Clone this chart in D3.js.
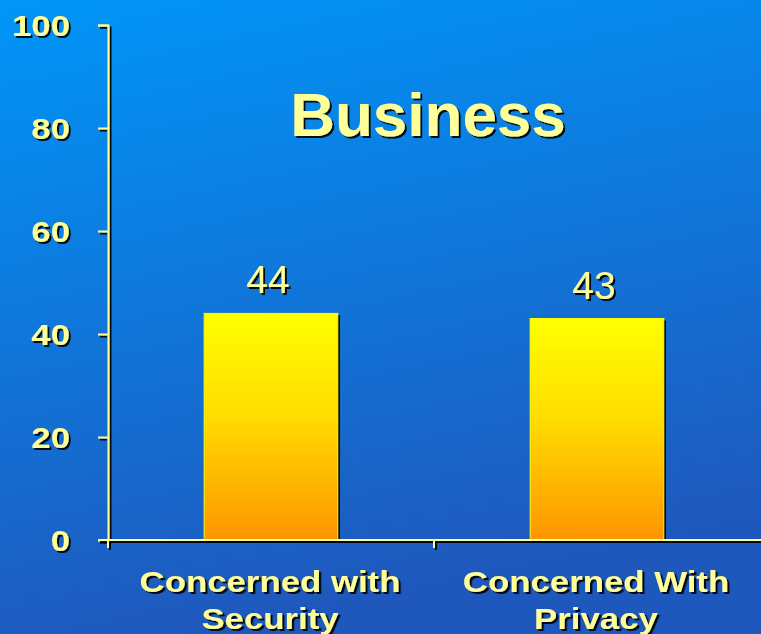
<!DOCTYPE html>
<html lang="en">
<head>
<meta charset="utf-8">
<title>Business</title>
<script src="https://d3js.org/d3.v7.min.js"></script>
<style>
  body { margin: 0; overflow: hidden; }
  text { font-family: "Liberation Sans", Arial, sans-serif; fill: #ffff99; }
</style>
</head>
<body>
<div id="chart"></div>
<script>
  // chart data
  var categories = ["Concerned with|Security", "Concerned With|Privacy"];
  var values = [44, 43];
  var yTicks = [0, 20, 40, 60, 80, 100];
  var title = "Business";

  var width = 761, height = 634;
  var margin = { left: 108, right: 0, top: 25, bottom: 94 };
  var stretch = 1.16; // the slide fonts are drawn wider than normal

  var svg = d3.select("#chart").append("svg")
    .attr("width", width)
    .attr("height", height);

  var defs = svg.append("defs");
  var bg = defs.append("linearGradient").attr("id", "bg")
    .attr("x1", 0).attr("y1", 0).attr("x2", 0.25).attr("y2", 1);
  bg.append("stop").attr("offset", "0%").attr("stop-color", "#0096f8");
  bg.append("stop").attr("offset", "100%").attr("stop-color", "#1f58bd");

  var barGrad = defs.append("linearGradient").attr("id", "barGrad")
    .attr("x1", 0).attr("y1", 0).attr("x2", 0).attr("y2", 1);
  barGrad.append("stop").attr("offset", "0%").attr("stop-color", "#ffff00");
  barGrad.append("stop").attr("offset", "45%").attr("stop-color", "#ffdd00");
  barGrad.append("stop").attr("offset", "100%").attr("stop-color", "#ff9400");

  var shadow = defs.append("filter").attr("id", "shadow")
    .attr("x", "-10%").attr("y", "-10%").attr("width", "130%").attr("height", "140%");
  shadow.append("feDropShadow").attr("dx", 2).attr("dy", 2)
    .attr("stdDeviation", 0).attr("flood-color", "#000").attr("flood-opacity", 0.9);

  svg.append("rect").attr("width", width).attr("height", height).attr("fill", "url(#bg)");

  var x = d3.scaleBand()
    .domain(categories)
    .range([margin.left, 760])
    .paddingInner(0)
    .paddingOuter(0);

  var y = d3.scaleLinear()
    .domain([0, 100])
    .range([height - margin.bottom, margin.top]);

  var barW = x.bandwidth() * 0.41;

  // bars
  var bars = svg.append("g");
  bars.selectAll("rect.shade")
    .data(values)
    .enter().append("rect")
    .attr("x", function (d, i) { return x(categories[i]) + x.bandwidth() / 2 - barW / 2 + 2; })
    .attr("y", function (d) { return y(d) + 2; })
    .attr("width", barW)
    .attr("height", function (d) { return y(0) - y(d); })
    .attr("fill", "#000");
  bars.selectAll("rect.bar")
    .data(values)
    .enter().append("rect")
    .attr("x", function (d, i) { return x(categories[i]) + x.bandwidth() / 2 - barW / 2; })
    .attr("y", function (d) { return y(d); })
    .attr("width", barW)
    .attr("height", function (d) { return y(0) - y(d); })
    .attr("fill", "url(#barGrad)")
    .attr("stroke", "#ffff00")
    .attr("stroke-width", 1);

  // value labels
  svg.append("g").selectAll("text")
    .data(values)
    .enter().append("text")
    .attr("x", function (d, i) { return x(categories[i]) + x.bandwidth() / 2 - 3; })
    .attr("y", function (d) { return y(d) - 20; })
    .attr("text-anchor", "middle")
    .attr("font-size", 39)
    .attr("filter", "url(#shadow)")
    .text(function (d) { return d; });

  // y axis
  var yAxis = svg.append("g")
    .attr("transform", "translate(" + margin.left + ",0)")
    .call(d3.axisLeft(y).tickValues(yTicks).tickSize(10).tickPadding(38))
    .attr("filter", "url(#shadow)");
  yAxis.select(".domain").attr("stroke", "#ffff99").attr("stroke-width", 2);
  yAxis.selectAll(".tick line").attr("stroke", "#ffff99").attr("stroke-width", 2);
  yAxis.selectAll(".tick text")
    .attr("font-size", 30).attr("font-weight", "bold")
    .attr("fill", "#ffff99").attr("dy", "0.36em")
    .attr("x", -38 / stretch)
    .attr("transform", "scale(" + stretch + ",1)")
    .style("font-family", "'Liberation Sans', Arial, sans-serif");

  // x axis
  var xAxisG = svg.append("g").attr("filter", "url(#shadow)");
  xAxisG.append("line")
    .attr("x1", margin.left - 10).attr("x2", width)
    .attr("y1", y(0)).attr("y2", y(0))
    .attr("stroke", "#ffff99").attr("stroke-width", 2);
  xAxisG.selectAll("line.tk")
    .data(categories)
    .enter().append("line")
    .attr("x1", function (d) { return x(d); }).attr("x2", function (d) { return x(d); })
    .attr("y1", y(0)).attr("y2", y(0) + 8)
    .attr("stroke", "#ffff99").attr("stroke-width", 2);

  // category labels
  var cat = svg.append("g").selectAll("g")
    .data(categories)
    .enter().append("g")
    .attr("transform", function (d) {
      return "translate(" + (x(d) + x.bandwidth() / 2 - 1) + "," + (y(0) + 52) + ") scale(" + stretch + ",1)";
    })
    .append("text")
    .attr("x", 0)
    .attr("y", 0)
    .attr("text-anchor", "middle")
    .attr("font-size", 30)
    .attr("font-weight", "bold")
    .attr("filter", "url(#shadow)");
  cat.selectAll("tspan")
    .data(function (d) { return d.split("|"); })
    .enter().append("tspan")
    .attr("x", 0)
    .attr("dy", function (d, i) { return i ? 37 : 0; })
    .text(function (d) { return d; });

  // title
  svg.append("text")
    .attr("x", 428)
    .attr("y", 136)
    .attr("text-anchor", "middle")
    .attr("font-size", 62)
    .attr("font-weight", "bold")
    .attr("filter", "url(#shadow)")
    .text(title);
</script>
</body>
</html>
